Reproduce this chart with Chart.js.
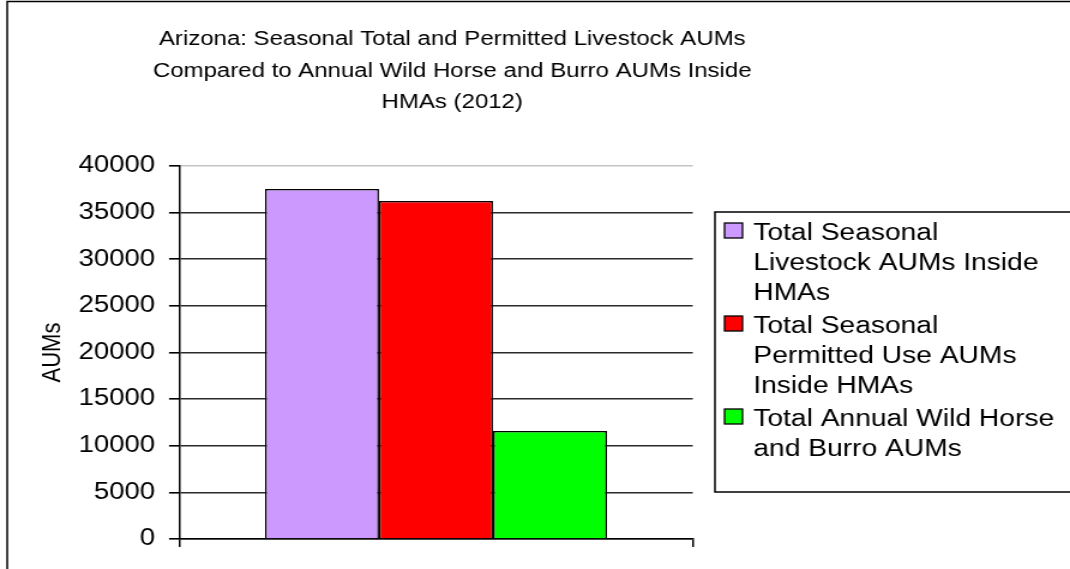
<!DOCTYPE html>
<html>
<head>
<meta charset="utf-8">
<script src="https://cdn.jsdelivr.net/npm/chart.js@4.4.1/dist/chart.umd.min.js"></script>
<style>
  html, body { margin: 0; padding: 0; background: #fff; overflow: hidden; }
</style>
</head>
<body>
<!-- el lienzo se dibuja más estrecho y se estira a lo ancho -->
<canvas id="grafico" width="892" height="569" style="display:block;width:1070px;height:569px;"></canvas>
<script>
// Datos del gráfico
const tituloLineas = [
    'Arizona: Seasonal Total and Permitted Livestock AUMs',
    'Compared to Annual Wild Horse and Burro AUMs Inside',
    'HMAs (2012)'
];
const categorias = [''];
const seriesNombres = [
    ['Total Seasonal', 'Livestock AUMs Inside', 'HMAs'],
    ['Total Seasonal', 'Permitted Use AUMs', 'Inside HMAs'],
    ['Total Annual Wild Horse', 'and Burro AUMs']
];
const seriesValores = [
    [37530],
    [36250],
    [11580]
];
const seriesColores = ['#cc99ff', '#ff0000', '#00ff00'];
const tituloEjeY = 'AUMs';
const ejeYMin = 0;
const ejeYMax = 40000;
const ejeYPaso = 5000;

const fuente = '"Liberation Sans", Arial, sans-serif';
Chart.defaults.font.family = fuente;
Chart.defaults.color = '#000';

// Marco exterior, título y leyenda dibujados a mano
const decoracionPlugin = {
    id: 'decoracion',
    beforeDraw(chart) {
        const ctx = chart.ctx;
        ctx.save();
        ctx.fillStyle = '#fff';
        ctx.fillRect(0, 0, chart.width, chart.height);
        ctx.strokeStyle = '#000';
        ctx.lineWidth = 1.5;
        ctx.strokeRect(6, 1.5, chart.width + 20, chart.height + 20);
        ctx.restore();
    },
    afterDraw(chart) {
        const ctx = chart.ctx;
        ctx.save();
        ctx.fillStyle = '#000';

        // título
        ctx.font = '20px ' + fuente;
        ctx.textAlign = 'center';
        ctx.textBaseline = 'alphabetic';
        tituloLineas.forEach((linea, i) => {
            ctx.fillText(linea, 377, 45 + i * 31.7);
        });

        // leyenda
        const lx = 596, ly = 212;
        ctx.strokeStyle = '#000';
        ctx.lineWidth = 1.5;
        ctx.strokeRect(lx, ly, chart.width, 280);

        ctx.font = '23.5px ' + fuente;
        ctx.textAlign = 'left';
        chart.data.datasets.forEach((ds, i) => {
            const top = 223 + i * 93;
            ctx.fillStyle = ds.backgroundColor;
            ctx.fillRect(604, top, 15, 15);
            ctx.strokeStyle = '#000';
            ctx.lineWidth = 1.3;
            ctx.strokeRect(604, top, 15, 15);
            ctx.fillStyle = '#000';
            seriesNombres[i].forEach((linea, j) => {
                ctx.fillText(linea, 628, top + 17 + j * 30);
            });
        });
        ctx.restore();
    }
};

const datasets = seriesValores.map((valores, i) => ({
    label: seriesNombres[i].join(' '),
    data: valores,
    backgroundColor: seriesColores[i],
    borderColor: '#000',
    borderWidth: 1.5,
    categoryPercentage: 0.666,
    barPercentage: 1.0
}));

const ctxGrafico = document.getElementById('grafico').getContext('2d');
const grafico = new Chart(ctxGrafico, {
    type: 'bar',
    data: {
        labels: categorias,
        datasets: datasets
    },
    options: {
        responsive: false,
        animation: false,
        layout: { padding: { top: 166, right: 314.5, bottom: 0, left: 0 } },
        plugins: {
            legend: { display: false },
            tooltip: { enabled: false },
            title: { display: false }
        },
        scales: {
            x: {
                afterFit: (scale) => { scale.height = 30; },
                ticks: { display: false },
                grid: {
                    offset: true,
                    drawOnChartArea: false,
                    tickLength: 8,
                    color: '#000',
                    lineWidth: 1.5
                },
                border: { color: '#000', width: 1.6 }
            },
            y: {
                min: ejeYMin,
                max: ejeYMax,
                afterFit: (scale) => { scale.width = 149.4; },
                ticks: {
                    stepSize: ejeYPaso,
                    padding: 11.5,
                    font: { size: 23 },
                    color: '#000',
                    callback: (v) => String(v)
                },
                grid: {
                    color: (c) => (c.tick && c.tick.value === ejeYMax) ? '#c4c4c4' : '#2a2a2a',
                    tickColor: '#000',
                    lineWidth: 1.6,
                    tickLength: 8.5
                },
                border: { color: '#000', width: 1.5 },
                title: {
                    display: true,
                    text: tituloEjeY,
                    font: { size: 22 },
                    color: '#000',
                    padding: { top: 31, bottom: 0 }
                }
            }
        }
    },
    plugins: [decoracionPlugin]
});
</script>
</body>
</html>
